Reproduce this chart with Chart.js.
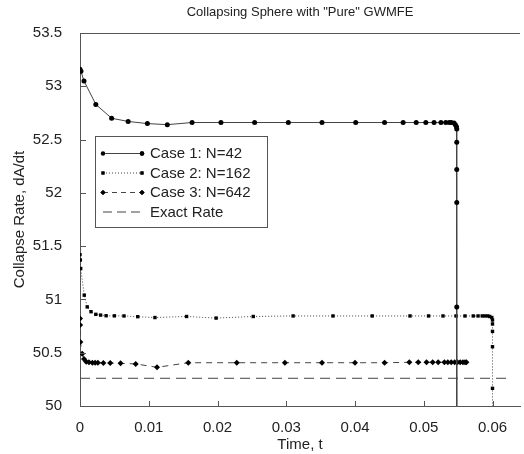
<!DOCTYPE html>
<html>
<head>
<meta charset="utf-8">
<script src="https://cdn.jsdelivr.net/npm/chart.js@4"></script>
<style>
html,body{margin:0;padding:0;background:#fff;}
canvas{display:block;}
</style>
</head>
<body>
<canvas id="c" width="524" height="454"></canvas>
<script>
// ---- data ----
const chartTitle = 'Collapsing Sphere with "Pure" GWMFE';
const xAxisTitle = 'Time, t';
const yAxisTitle = 'Collapse Rate, dA/dt';
const seriesNames = ['Case 1: N=42', 'Case 2: N=162', 'Case 3: N=642', 'Exact Rate'];
const xTickValues = [0, 0.01, 0.02, 0.03, 0.04, 0.05, 0.06];
const xTickLabels = ['0', '0.01', '0.02', '0.03', '0.04', '0.05', '0.06'];
const yTickValues = [50, 50.5, 51, 51.5, 52, 52.5, 53, 53.5];
const yTickLabels = ['50', '50.5', '51', '51.5', '52', '52.5', '53', '53.5'];

const case1T = [0, 0.00014, 0.00058, 0.0023, 0.0046, 0.0070, 0.0098, 0.0127, 0.0163, 0.0205, 0.0254, 0.0303, 0.0352, 0.0401, 0.0443, 0.0470, 0.0489, 0.0503, 0.0515, 0.0525, 0.0532, 0.0537, 0.0540, 0.0544, 0.0546, 0.05476, 0.0548, 0.0548, 0.0548, 0.0548, 0.0548, 0.0548];
const case1V = [53.16, 53.14, 53.05, 52.83, 52.70, 52.67, 52.65, 52.64, 52.66, 52.66, 52.66, 52.66, 52.66, 52.66, 52.66, 52.66, 52.66, 52.66, 52.66, 52.66, 52.66, 52.66, 52.66, 52.655, 52.64, 52.62, 52.60, 52.475, 52.22, 51.91, 50.93, 50.0];

const case2T = [0, 0.00005, 0.0001, 0.00062, 0.00105, 0.0016, 0.0023, 0.0030, 0.0038, 0.0050, 0.0064, 0.0084, 0.0109, 0.0155, 0.0198, 0.0252, 0.0310, 0.0368, 0.0425, 0.0480, 0.0507, 0.0528, 0.0547, 0.0560, 0.0572, 0.0579, 0.0585, 0.0589, 0.0593, 0.0596, 0.0599, 0.0600, 0.0600, 0.0600, 0.0600, 0.0600, 0.0600];
const case2V = [51.42, 51.37, 51.29, 51.04, 50.93, 50.885, 50.86, 50.853, 50.847, 50.846, 50.845, 50.838, 50.83, 50.84, 50.825, 50.84, 50.845, 50.845, 50.845, 50.845, 50.845, 50.845, 50.845, 50.845, 50.845, 50.845, 50.845, 50.845, 50.845, 50.84, 50.83, 50.807, 50.77, 50.70, 50.556, 50.166, 50.0];

const case3T = [0, 0.00002, 0.00005, 0.00033, 0.00058, 0.0009, 0.0013, 0.0018, 0.0022, 0.0026, 0.0034, 0.0044, 0.0059, 0.0081, 0.0112, 0.01575, 0.0228, 0.0298, 0.0352, 0.0400, 0.0443, 0.0479, 0.0492, 0.0504, 0.0513, 0.0521, 0.0530, 0.0535, 0.0540, 0.0545, 0.0549, 0.0553, 0.0557, 0.0560, 0.0562];
const case3V = [50.82, 50.76, 50.60, 50.49, 50.44, 50.415, 50.41, 50.407, 50.406, 50.406, 50.404, 50.403, 50.40, 50.395, 50.363, 50.406, 50.406, 50.406, 50.406, 50.406, 50.406, 50.41, 50.41, 50.41, 50.41, 50.41, 50.41, 50.41, 50.41, 50.41, 50.41, 50.41, 50.41, 50.41, 50.41];

const exactT = [0, 0.062];
const exactV = [50.26, 50.26];

// ---- chart ----
const FONT = "'Liberation Sans', Arial, sans-serif";
Chart.defaults.font.family = FONT;
Chart.defaults.color = '#222';

const toPoints = (ts, vs) => ts.map((t, i) => ({x: t, y: vs[i]}));
const hideAtAxis = (r) => (c) => (c.raw && c.raw.y <= 50.0001 ? 0 : r);

const lineCol = '#444';
const datasets = [
  {label: seriesNames[0], data: toPoints(case1T, case1V), borderColor: lineCol, borderWidth: 1,
   pointStyle: 'circle', pointRadius: hideAtAxis(2.5), pointBackgroundColor: '#000', pointBorderColor: '#000', pointBorderWidth: 0},
  {label: seriesNames[1], data: toPoints(case2T, case2V), borderColor: lineCol, borderWidth: 1, borderDash: [1, 2],
   pointStyle: 'rect', pointRadius: hideAtAxis(2.4), pointBackgroundColor: '#000', pointBorderColor: '#000', pointBorderWidth: 0},
  {label: seriesNames[2], data: toPoints(case3T, case3V), borderColor: lineCol, borderWidth: 1, borderDash: [6, 5],
   pointStyle: 'rectRot', pointRadius: hideAtAxis(3), pointBackgroundColor: '#000', pointBorderColor: '#000', pointBorderWidth: 0},
  {label: seriesNames[3], data: toPoints(exactT, exactV), borderColor: '#444', borderWidth: 1, borderDash: [10, 6],
   pointRadius: 0}
];

const frameTicks = {
  id: 'frameTicks',
  afterDraw(chart) {
    const {ctx, chartArea: a, scales: {x, y}} = chart;
    ctx.save();
    ctx.strokeStyle = '#555';
    ctx.lineWidth = 1;
    ctx.beginPath();
    ctx.moveTo(a.left, a.top + 0.5);
    ctx.lineTo(a.right, a.top + 0.5);
    xTickValues.forEach(v => {
      const px = Math.round(x.getPixelForValue(v)) + 0.5;
      ctx.moveTo(px, a.bottom);
      ctx.lineTo(px, a.bottom - 5);
    });
    yTickValues.forEach(v => {
      const py = Math.round(y.getPixelForValue(v)) + 0.5;
      ctx.moveTo(a.left, py);
      ctx.lineTo(a.left + 6, py);
    });
    ctx.stroke();
    // chart title centred over the plot area
    ctx.fillStyle = '#222';
    ctx.font = '13px ' + FONT;
    ctx.textAlign = 'center';
    ctx.textBaseline = 'middle';
    ctx.fillText(chartTitle, (a.left + a.right) / 2, 12);
    ctx.restore();
  }
};

const boxLegend = {
  id: 'boxLegend',
  afterDraw(chart) {
    const {ctx} = chart;
    const bx = 95.5, by = 136.5, bw = 172, bh = 91;
    ctx.save();
    ctx.fillStyle = '#fff';
    ctx.fillRect(bx, by, bw, bh);
    ctx.strokeStyle = '#555';
    ctx.lineWidth = 1;
    ctx.strokeRect(bx, by, bw, bh);
    const rows = [153, 172.5, 192, 211.5];
    chart.data.datasets.forEach((ds, i) => {
      const ry = rows[i] + 0.5;
      ctx.strokeStyle = ds.borderColor;
      ctx.setLineDash(i === 2 ? [5, 4] : (i === 3 ? [9, 5] : (ds.borderDash || [])));
      ctx.beginPath();
      ctx.moveTo(103, ry);
      ctx.lineTo(142, ry);
      ctx.stroke();
      ctx.setLineDash([]);
      if (i < 3) {
        const r = i === 2 ? 2.6 : 2.2;
        [103, 142].forEach(px => {
          Chart.helpers.drawPoint(ctx, {pointStyle: ds.pointStyle, radius: r, borderWidth: 0}, px, ry);
          ctx.fillStyle = '#000';
          ctx.fill();
        });
      }
      ctx.fillStyle = '#222';
      ctx.font = '15px ' + FONT;
      ctx.textBaseline = 'middle';
      ctx.textAlign = 'left';
      ctx.fillText(ds.label, 150, rows[i] + 1);
    });
    ctx.restore();
  }
};

new Chart(document.getElementById('c'), {
  type: 'line',
  data: {datasets},
  plugins: [frameTicks, boxLegend],
  options: {
    responsive: false,
    animation: false,
    layout: {padding: {top: 33, left: 0, right: 0, bottom: 0}},
    elements: {line: {tension: 0}},
    plugins: {
      legend: {display: false},
      tooltip: {enabled: false},
      title: {display: false}
    },
    scales: {
      x: {
        type: 'linear', min: 0, max: 0.064,
        afterBuildTicks: s => { s.ticks = xTickValues.map(v => ({value: v})); },
        afterFit: s => { s.height = 48; },
        grid: {display: false},
        border: {display: true, color: '#555', width: 1},
        ticks: {padding: 5, color: '#222', font: {size: 15}, maxRotation: 0, autoSkip: false,
                callback: (v, i) => xTickLabels[i]},
        title: {display: true, text: xAxisTitle, color: '#222', font: {size: 15}, padding: {top: 4, bottom: 0}}
      },
      y: {
        type: 'linear', min: 50, max: 53.5,
        afterBuildTicks: s => { s.ticks = yTickValues.map(v => ({value: v})); },
        afterFit: s => { s.width = 80; },
        grid: {display: false},
        border: {display: true, color: '#555', width: 1},
        ticks: {padding: 10, color: '#222', font: {size: 15}, autoSkip: false,
                callback: (v, i) => yTickLabels[i]},
        title: {display: true, text: yAxisTitle, color: '#222', font: {size: 15}, padding: {top: 11, bottom: 0}}
      }
    }
  }
});
</script>
</body>
</html>
